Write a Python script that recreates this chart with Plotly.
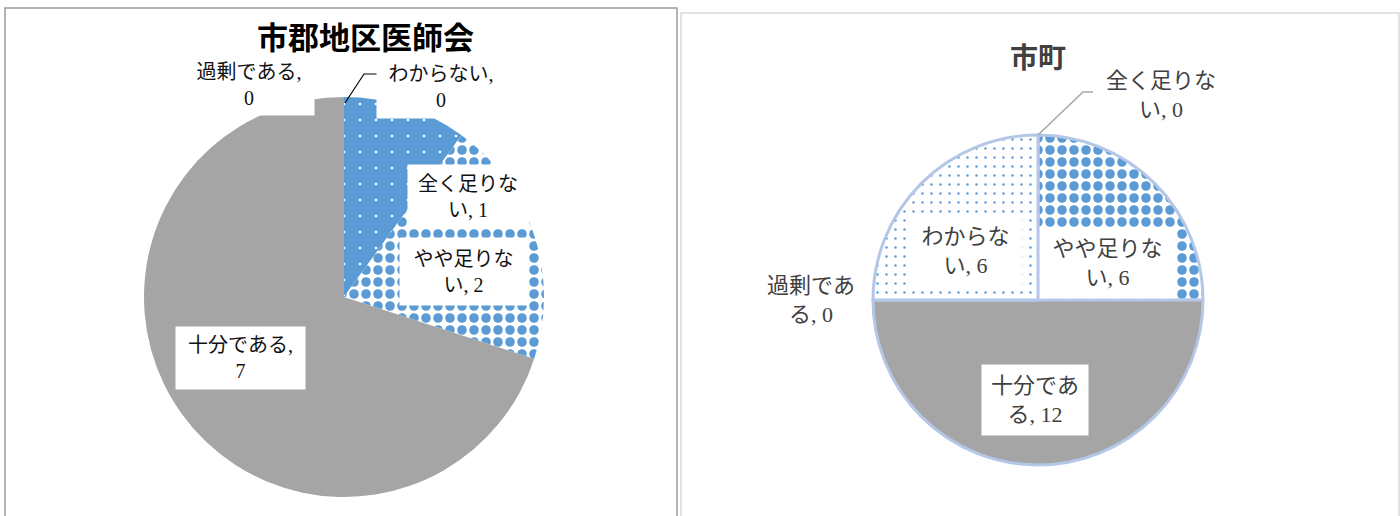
import plotly.graph_objects as go

# ---------------- data ----------------
categories = ["全く足りない", "やや足りない", "十分である", "過剰である", "わからない"]
left_values = [1, 2, 7, 0, 0]      # 市郡地区医師会
right_values = [0, 6, 12, 0, 6]    # 市町
left_title = "市郡地区医師会"
right_title = "市町"

# ---------------- styling ----------------
W, H = 1400, 516
BLUE = "#5B9BD5"
GRAY = "#A5A5A5"
FONT = "Noto Sans CJK JP"
LABEL_FONT = "Liberation Serif, Noto Sans CJK JP"


def px(x):
    return x / W


def py(y):
    return 1 - y / H


def wrap(cat, val, n):
    s = f"{cat}, {val}"
    return s[:n] + "<br>" + s[n:].lstrip()


patterns = [
    dict(shape=".", bgcolor=BLUE, fgcolor="white", size=16, solidity=0.022),
    dict(shape=".", bgcolor="white", fgcolor=BLUE, size=12, solidity=0.5),
    dict(shape="", bgcolor=GRAY, fgcolor=GRAY),
    dict(shape="", bgcolor="#ED7D31", fgcolor="#ED7D31"),
    dict(shape=".", bgcolor="white", fgcolor=BLUE, size=9, solidity=0.06),
]


def pat(plist):
    return dict(
        shape=[p["shape"] for p in plist],
        bgcolor=[p["bgcolor"] for p in plist],
        fgcolor=[p["fgcolor"] for p in plist],
        size=[p.get("size", 8) for p in plist],
        solidity=[p.get("solidity", 0.3) for p in plist],
        fillmode="replace",
    )


fig = go.Figure()

# left pie: center (344,297), r=200
fig.add_trace(go.Pie(
    labels=categories, values=left_values, sort=False, direction="clockwise",
    rotation=0, textinfo="none", hoverinfo="label+value",
    domain=dict(x=[px(144), px(544)], y=[py(497), py(97)]),
    marker=dict(colors=[BLUE, BLUE, GRAY, "#ED7D31", "white"],
                line=dict(width=0, color="white"),
                pattern=pat(patterns)),
    showlegend=False,
))

# right pie: center (1038,300), r=165
fig.add_trace(go.Pie(
    labels=categories, values=right_values, sort=False, direction="clockwise",
    rotation=0, textinfo="none", hoverinfo="label+value",
    domain=dict(x=[px(873), px(1203)], y=[py(465), py(135)]),
    marker=dict(colors=[BLUE, BLUE, GRAY, "#ED7D31", "white"],
                line=dict(width=3, color="#B4C7E7"),
                pattern=pat(patterns)),
    showlegend=False,
))

annotations = []

# titles
annotations.append(dict(x=px(365), y=py(35), xref="paper", yref="paper",
                        xanchor="center", yanchor="middle",
                        text=f"<b>{left_title}</b>", showarrow=False,
                        font=dict(family=FONT, size=31, color="black")))
annotations.append(dict(x=px(1038), y=py(56), xref="paper", yref="paper",
                        xanchor="center", yanchor="middle",
                        text=f"<b>{right_title}</b>", showarrow=False,
                        font=dict(family=FONT, size=28, color="#404040")))

# data labels: (category index, center x, center y, box w, box h, wrap index)
left_labels = [
    (3, 249, 85, 130, 60, 6),
    (4, 441, 87, 128, 62, 6),
    (0, 468, 196, 120, 63, 5),
    (1, 463, 271, 127, 67, 5),
    (2, 240, 358, 129, 62, 6),
]
right_labels = [
    (0, 1161, 95, 130, 62, 5),
    (3, 811, 300, 110, 62, 4),
    (4, 966, 251, 113, 68, 4),
    (1, 1107, 263, 135, 70, 5),
    (2, 1035, 400, 106, 70, 4),
]

for i, x, y, w, h, n in left_labels:
    annotations.append(dict(
        x=px(x), y=py(y), xref="paper", yref="paper", showarrow=False,
        xanchor="center", yanchor="middle", width=w, height=h,
        text=wrap(categories[i], left_values[i], n), align="center",
        valign="middle", bgcolor="white", borderpad=0,
        font=dict(family=LABEL_FONT, size=20, color="#111111")))

for i, x, y, w, h, n in right_labels:
    annotations.append(dict(
        x=px(x), y=py(y), xref="paper", yref="paper", showarrow=False,
        xanchor="center", yanchor="middle", width=w, height=h,
        text=wrap(categories[i], right_values[i], n), align="center",
        valign="middle", bgcolor="white", borderpad=0,
        font=dict(family=LABEL_FONT, size=22, color="#404040")))


def leader_path(points):
    return "M " + " L ".join(f"{px(x):.5f},{py(y):.5f}" for x, y in points)


shapes = [
    dict(type="rect", xref="paper", yref="paper",
         x0=px(5), x1=px(677), y0=-0.02, y1=py(8),
         line=dict(color="#9A9A9A", width=1.5), fillcolor="rgba(0,0,0,0)"),
    dict(type="rect", xref="paper", yref="paper",
         x0=px(681), x1=px(1399), y0=-0.02, y1=py(13),
         line=dict(color="#D9D9D9", width=1.5), fillcolor="rgba(0,0,0,0)"),
    dict(type="path", xref="paper", yref="paper",
         path=leader_path([(345, 103), (364, 74), (378, 74)]),
         line=dict(color="black", width=1.2)),
    dict(type="path", xref="paper", yref="paper",
         path=leader_path([(1038, 135), (1083, 92), (1093, 92)]),
         line=dict(color="#A6A6A6", width=1.5)),
]

fig.update_layout(
    width=W, height=H,
    margin=dict(l=0, r=0, t=0, b=0),
    paper_bgcolor="white", plot_bgcolor="white",
    annotations=annotations, shapes=shapes,
    font=dict(family=FONT),
)

fig.write_html("out.html")
